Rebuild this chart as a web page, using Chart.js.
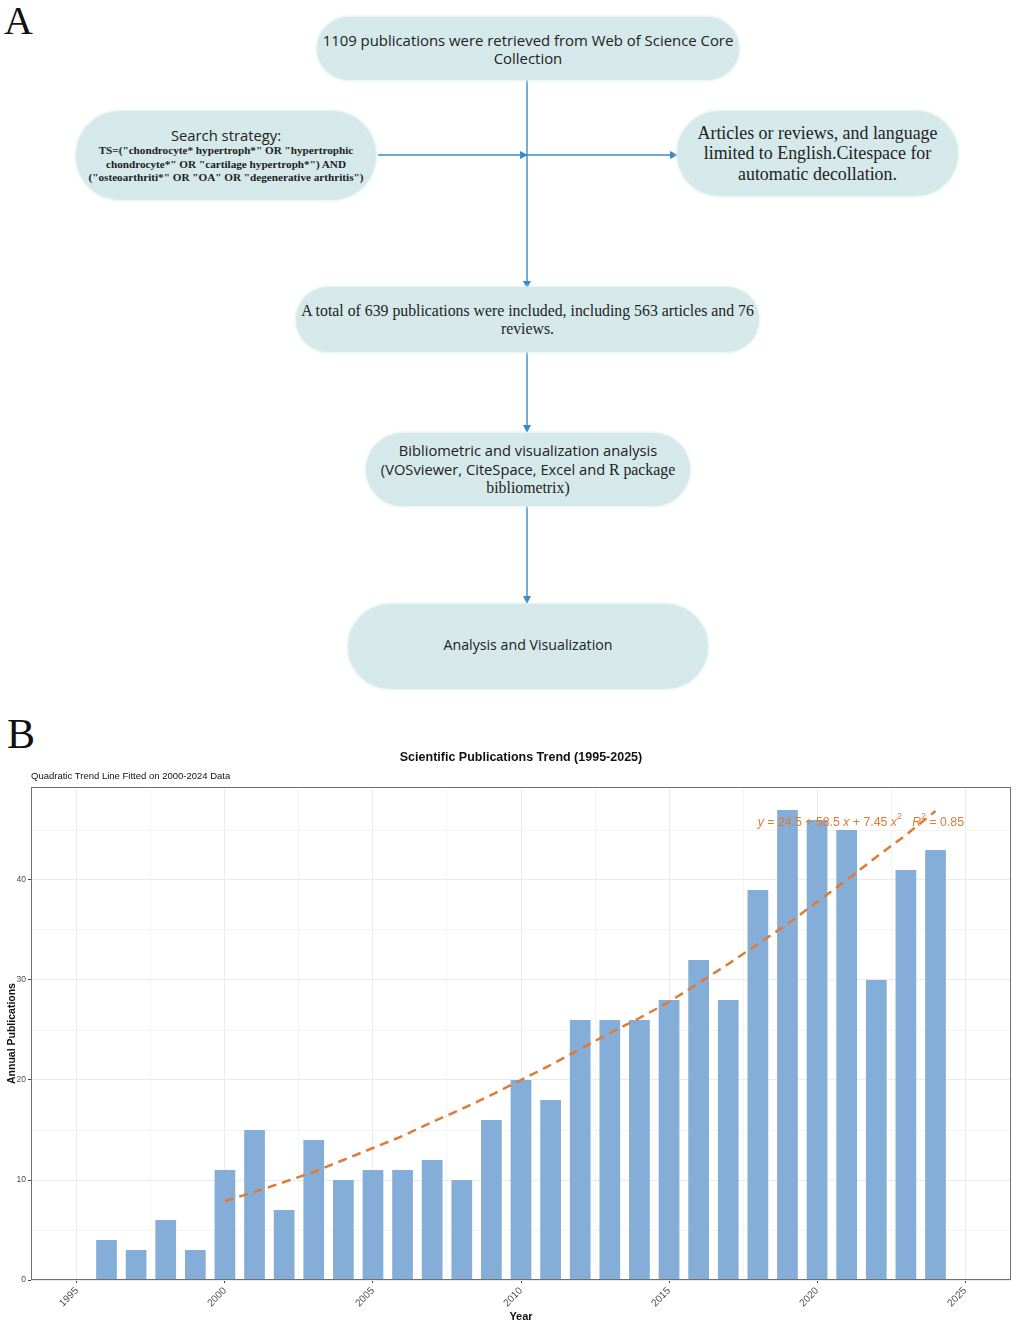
<!DOCTYPE html>
<html>
<head>
<meta charset="utf-8">
<script src="https://cdn.jsdelivr.net/npm/chart.js@4.4.1/dist/chart.umd.min.js"></script>
<style>
  html, body { margin: 0; padding: 0; background: #fff; }
  #page { position: relative; width: 1022px; height: 1327px; overflow: hidden; }
  .panel-letter { position: absolute; font-family: "Liberation Serif", serif; color: #111; line-height: 1; }
  .box {
    position: absolute; background: #d5e9ea; border-radius: 40px;
    box-shadow: 0 0 3px 1px #e3f0f1;
    display: flex; flex-direction: column; justify-content: center; align-items: center;
    text-align: center; color: #222; box-sizing: border-box;
  }
  .sans { font-family: "Open Sans", "Noto Sans", sans-serif; }
  .serif { font-family: "Liberation Serif", serif; }
  #arrows { position: absolute; left: 0; top: 0; }
  #chartWrap { position: absolute; left: 0; top: 745px; width: 1022px; height: 582px; }
</style>
</head>
<body>
<div id="page">
  <div class="panel-letter" style="left:4px; top:1px; font-size:40px;">A</div>

  <svg id="arrows" width="1022" height="700">
    <defs>
      <marker id="head" markerWidth="8" markerHeight="8" refX="7" refY="4" orient="auto" markerUnits="userSpaceOnUse">
        <path d="M0,0 L8,4 L0,8 z" fill="#3a8cc4"></path>
      </marker>
    </defs>
    <g stroke="#3a8cc4" stroke-width="1.4" fill="none">
      <line x1="527" y1="80" x2="527" y2="288" marker-end="url(#head)"></line>
      <line x1="378" y1="155" x2="527" y2="155" marker-end="url(#head)"></line>
      <line x1="527" y1="155" x2="677" y2="155" marker-end="url(#head)"></line>
      <line x1="527" y1="352" x2="527" y2="432" marker-end="url(#head)"></line>
      <line x1="527" y1="506" x2="527" y2="603" marker-end="url(#head)"></line>
    </g>
  </svg>

  <div class="box sans" style="left:317px; top:17px; width:422px; height:63px; font-size:14.9px; line-height:18px;">
    <div>1109 publications were retrieved from Web of Science Core</div>
    <div>Collection</div>
  </div>

  <div class="box" style="left:76px; top:111px; width:300px; height:89px; border-radius:45px;">
    <div class="sans" style="font-size:14.8px; line-height:18px;">Search strategy:</div>
    <div class="serif" style="font-size:11.2px; line-height:13.5px; font-weight:bold;">
      <div>TS=("chondrocyte* hypertroph*" OR "hypertrophic</div>
      <div>chondrocyte*" OR "cartilage hypertroph*") AND</div>
      <div>("osteoarthriti*" OR "OA" OR "degenerative arthritis")</div>
    </div>
  </div>

  <div class="box serif" style="left:677px; top:111px; width:281px; height:85px; border-radius:43px; font-size:17.9px; line-height:20.5px;">
    <div>Articles or reviews, and language</div>
    <div>limited to English.Citespace for</div>
    <div>automatic decollation.</div>
  </div>

  <div class="box serif" style="left:296px; top:287px; width:463px; height:65px; border-radius:33px; font-size:15.8px; line-height:18px;">
    <div>A total of 639 publications were included, including 563 articles and 76</div>
    <div>reviews.</div>
  </div>

  <div class="box" style="left:366px; top:433px; width:324px; height:73px; border-radius:37px; font-size:14.7px; line-height:18.5px;">
    <div class="sans">Bibliometric and visualization analysis</div>
    <div><span class="sans">(VOSviewer, CiteSpace, Excel and</span> <span class="serif" style="font-size:15.8px;">R package</span></div>
    <div class="serif" style="font-size:15.8px;">bibliometrix)</div>
  </div>

  <div class="box sans" style="left:348px; top:604px; width:360px; height:85px; border-radius:43px; font-size:14.2px; padding-bottom:4px;">
    <div>Analysis and Visualization</div>
  </div>

  <div class="panel-letter" style="left:7px; top:713px; font-size:42px;">B</div>

  <div id="chartWrap"><canvas id="trendChart"></canvas></div>
</div>

<script>
  // annual publication counts
  var years = [1996, 1997, 1998, 1999, 2000, 2001, 2002, 2003, 2004, 2005, 2006, 2007, 2008, 2009,
    2010, 2011, 2012, 2013, 2014, 2015, 2016, 2017, 2018, 2019, 2020, 2021, 2022, 2023, 2024];
  var publications = [4, 3, 6, 3, 11, 15, 7, 14, 10, 11, 11, 12, 10, 16,
    20, 18, 26, 26, 26, 28, 32, 28, 39, 47, 46, 45, 30, 41, 43];

  // dashed trend line (2000-2024)
  var trendYears = [2000, 2001, 2002, 2003, 2004, 2005, 2006, 2007, 2008, 2009, 2010, 2011, 2012,
    2013, 2014, 2015, 2016, 2017, 2018, 2019, 2020, 2021, 2022, 2023, 2024];
  var trendValues = [7.9, 8.8, 9.8, 10.8, 12.0, 13.2, 14.4, 15.8, 17.1, 18.5, 20.0, 21.5, 23.1,
    24.7, 26.2, 27.8, 29.7, 31.6, 33.6, 35.6, 37.8, 40.0, 42.3, 44.5, 46.9];

  var chartTitle = "Scientific Publications Trend (1995-2025)";
  var chartSubtitle = "Quadratic Trend Line Fitted on 2000-2024 Data";
  var xTitle = "Year";
  var yTitle = "Annual Publications";

  var barColor = "#84aed8";
  var trendColor = "#e07a35";

  function pairs(xs, ys) {
    var out = [];
    for (var i = 0; i < xs.length; i++) {
      out.push({ x: xs[i], y: ys[i] });
    }
    return out;
  }

  var chartText = {
    id: "chartText",
    afterDraw: function (chart) {
      var ctx = chart.ctx;
      var area = chart.chartArea;
      ctx.save();
      // panel border
      ctx.strokeStyle = "#6f6f6f";
      ctx.lineWidth = 1;
      ctx.strokeRect(area.left + 0.5, area.top + 0.5, area.right - area.left - 1, area.bottom - area.top - 1);

      ctx.fillStyle = "#111";
      ctx.textBaseline = "middle";
      ctx.textAlign = "center";
      ctx.font = "bold 12.5px 'Liberation Sans', Arial, sans-serif";
      ctx.fillText(chartTitle, (area.left + area.right) / 2, 13);
      ctx.textAlign = "left";
      ctx.font = "9.5px 'Liberation Sans', Arial, sans-serif";
      ctx.fillText(chartSubtitle, area.left, 31);

      // fitted equation label
      var sx = chart.scales.x, sy = chart.scales.y;
      var parts = [
        { t: "y", it: true }, { t: " = 24.5 + 58.5 " }, { t: "x", it: true }, { t: " + 7.45 " },
        { t: "x", it: true }, { t: "2", sup: true }, { t: "   " }, { t: "R", it: true },
        { t: "2", sup: true }, { t: " = 0.85" }
      ];
      function fontOf(p) {
        return (p.it ? "italic " : "") + (p.sup ? "9px" : "12.3px") + " 'Liberation Sans', Arial, sans-serif";
      }
      var total = 0;
      parts.forEach(function (p) { ctx.font = fontOf(p); total += ctx.measureText(p.t).width; });
      var x = sx.getPixelForValue(2021.48) - total / 2;
      var y = sy.getPixelForValue(45.7);
      ctx.fillStyle = trendColor;
      parts.forEach(function (p) {
        ctx.font = fontOf(p);
        ctx.fillText(p.t, x, p.sup ? y - 6 : y);
        x += ctx.measureText(p.t).width;
      });
      ctx.restore();
    }
  };

  new Chart(document.getElementById("trendChart"), {
    type: "bar",
    data: {
      datasets: [
        {
          type: "line",
          label: "Trend",
          data: pairs(trendYears, trendValues),
          borderColor: trendColor,
          borderWidth: 2.5,
          borderDash: [9, 6],
          pointRadius: 0,
          fill: false,
          tension: 0,
          order: 0,
        },
        {
          label: "Publications",
          data: pairs(years, publications),
          backgroundColor: barColor,
          borderWidth: 0,
          barPercentage: 0.7,
          categoryPercentage: 1,
          order: 1,
        },
      ],
    },
    options: {
      responsive: true,
      maintainAspectRatio: false,
      animation: false,
      layout: { padding: { top: 42, right: 11, left: 0, bottom: 0 } },
      scales: {
        x: {
          type: "linear",
          min: 1993.45,
          max: 2026.55,
          offset: false,
          grid: {
            offset: false,
            color: function (c) { return c.tick && c.tick.value % 5 === 0 ? "#ebebeb" : "#f4f4f4"; },
            tickColor: function (c) { return c.tick && c.tick.value % 5 === 0 ? "#444" : "rgba(0,0,0,0)"; },
            tickLength: 3,
          },
          border: { display: false },
          ticks: {
            stepSize: 2.5,
            includeBounds: false,
            autoSkip: false,
            maxRotation: 45,
            minRotation: 45,
            padding: 2,
            color: "#4d4d4d",
            font: { family: "'Liberation Sans', Arial, sans-serif", size: 10 },
            callback: function (v) { return v % 5 === 0 ? String(v) : ""; },
          },
          title: {
            display: true,
            text: xTitle,
            color: "#111",
            font: { family: "'Liberation Sans', Arial, sans-serif", size: 11, weight: "bold" },
            padding: { top: 0, bottom: 3 },
          },
          afterFit: function (scale) { scale.height = 47; },
        },
        y: {
          min: 0,
          max: 49.3,
          grid: {
            color: function (c) { return c.tick && c.tick.value % 10 === 0 ? "#ebebeb" : "#f4f4f4"; },
            tickColor: function (c) { return c.tick && c.tick.value % 10 === 0 ? "#444" : "rgba(0,0,0,0)"; },
            tickLength: 3,
          },
          border: { display: false },
          ticks: {
            stepSize: 5,
            includeBounds: false,
            padding: 2,
            color: "#4d4d4d",
            font: { family: "'Liberation Sans', Arial, sans-serif", size: 8.5 },
            callback: function (v) { return v % 10 === 0 ? String(v) : ""; },
          },
          title: {
            display: true,
            text: yTitle,
            color: "#111",
            font: { family: "'Liberation Sans', Arial, sans-serif", size: 10.5, weight: "bold" },
            padding: { top: 6, bottom: 0 },
          },
          afterFit: function (scale) { scale.width = 31; },
        },
      },
      plugins: {
        legend: { display: false },
        tooltip: { enabled: false },
      },
    },
    plugins: [chartText],
  });
</script>
</body>
</html>
